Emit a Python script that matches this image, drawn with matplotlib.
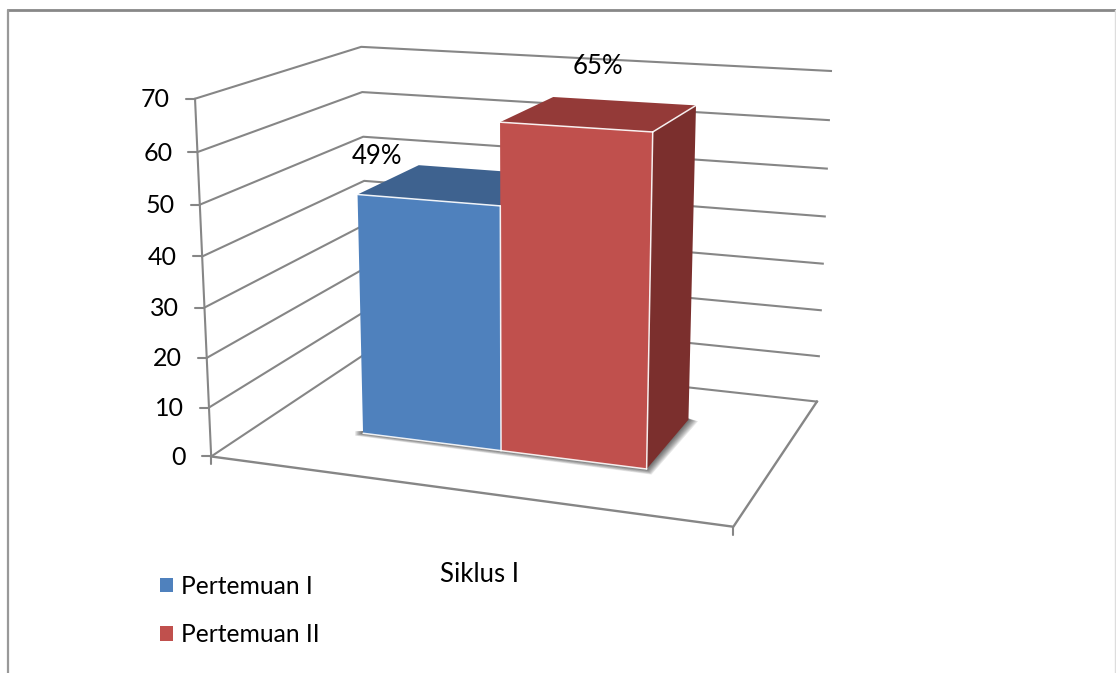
import numpy as np
import matplotlib
matplotlib.use('Agg')
import matplotlib.pyplot as plt
from matplotlib.patches import Polygon, Rectangle

plt.rcParams['font.family'] = ['Lato', 'DejaVu Sans']

categories = ['Siklus I']
series_names = ['Pertemuan I', 'Pertemuan II']
series_values = [49, 65]
value_labels = ['49%', '65%']
y_ticks = [0, 10, 20, 30, 40, 50, 60, 70]

# bar box on the floor, as fractions of floor width and depth
bar_edges = [0.213, 0.4985, 0.784]
bar_depth = [0.305, 0.72]

front_colors = ['#4F81BD', '#C0504D']
top_colors = ['#3E628F', '#943A38']
side_colors = ['#345276', '#7B2F2D']
grid_color = '#868686'

# camera fit: (across, depth, value) -> picture pixel
cal_3d = np.array([[0, 0, 0], [1, 0, 0], [1, 1, 0], [0, 1, 0], [0, 0, 70], [0, 1, 70],
                   [1, 1, 70], [0, 0, 30], [1, 1, 30], [0, 1, 40]], float)
cal_px = np.array([[211, 457], [733, 527], [817, 401], [368, 352], [195, 98.5], [361, 47],
                   [831, 71], [205, 307], [823, 264], [364, 181]], float)

A = []
b = []
for (X, Y, Z), (px, py) in zip(cal_3d, cal_px):
    A.append([X, Y, Z, 1, 0, 0, 0, 0, -px*X, -px*Y, -px*Z])
    b.append(px)
    A.append([0, 0, 0, 0, X, Y, Z, 1, -py*X, -py*Y, -py*Z])
    b.append(py)
cam = np.linalg.lstsq(np.array(A), np.array(b), rcond=None)[0]
cam = np.append(cam, 1).reshape(3, 4)


def proj(x, d, z):
    p = cam @ np.array([x, d, z, 1.0])
    return p[0]/p[2], p[1]/p[2]


def line(p1, p2, **kw):
    ax.plot([p1[0], p2[0]], [p1[1], p2[1]], solid_capstyle='round', **kw)


fig = plt.figure(figsize=(11.16, 6.73), dpi=100)
ax = fig.add_axes([0, 0, 1, 1])
ax.set_xlim(0, 1116)
ax.set_ylim(673, 0)
ax.axis('off')

# outer chart border
line((8, 10), (1116, 10), color='#888888', lw=2)
line((8, 10), (8, 673), color='#999999', lw=1.6)
line((1115, 10), (1115, 673), color='#dddddd', lw=1)

# walls and ticks
for v in y_ticks:
    p0 = proj(0, 0, v)
    p1 = proj(0, 1, v)
    p2 = proj(1, 1, v)
    ax.plot([p0[0], p1[0], p2[0]], [p0[1], p1[1], p2[1]], color=grid_color, lw=1.5)
    line((p0[0]-9, p0[1]), p0, color=grid_color, lw=1.5)
    ax.text(p0[0]-25, p0[1]+1, str(v), ha='right', va='center', fontsize=18, color='black')

line(proj(0, 0, 0), proj(0, 0, 70), color=grid_color, lw=1.5)
f = [proj(0, 0, 0), proj(1, 0, 0), proj(1, 1, 0)]
ax.plot([q[0] for q in f], [q[1] for q in f], color=grid_color, lw=1.7)
line(f[0], (f[0][0], f[0][1]+8), color=grid_color, lw=1.5)
line(f[1], (f[1][0], f[1][1]+8), color=grid_color, lw=1.5)

# soft shadow on the floor
d0, d1 = bar_depth
base = [proj(bar_edges[0], d0, 0), proj(bar_edges[2], d0, 0), proj(bar_edges[2], d1, 0)]
for k in range(8):
    off = 1 + k
    pts = [(base[0][0]-off, base[0][1]-2), (base[0][0]-off, base[0][1]+off*0.3), (base[1][0]+off*0.6, base[1][1]+off*0.7),
           (base[2][0]+off*1.2, base[2][1]+off*0.2), (base[2][0]-2, base[2][1]-2)]
    ax.add_patch(Polygon(pts, closed=True, fc='black', ec='none', alpha=0.09, zorder=3))

# bars, back to front so that the taller one covers the shorter
for i, v in enumerate(series_values):
    x0, x1 = bar_edges[i], bar_edges[i+1]
    top = [proj(x0, d0, v), proj(x1, d0, v), proj(x1, d1, v), proj(x0, d1, v)]
    side = [proj(x1, d0, 0), proj(x1, d1, 0), proj(x1, d1, v), proj(x1, d0, v)]
    front = [proj(x0, d0, 0), proj(x1, d0, 0), proj(x1, d0, v), proj(x0, d0, v)]
    ax.add_patch(Polygon(top, closed=True, fc=top_colors[i], ec='none', zorder=4))
    ax.add_patch(Polygon(side, closed=True, fc=side_colors[i], ec='none', zorder=4))
    ax.add_patch(Polygon(front, closed=True, fc=front_colors[i], ec='none', zorder=4))
    w = dict(color='white', lw=1.1, alpha=0.9, zorder=5)
    line(front[3], front[2], **w)
    line(front[0], front[1], **w)
    line(front[1], front[2], **w)
    if i == 1:
        line(top[1], top[2], **w)

# data labels
label_pos = [(377, 156), (598, 66)]
for (lx, ly), s in zip(label_pos, value_labels):
    ax.text(lx, ly, s, ha='center', va='center', fontsize=18.5, color='black', zorder=6)

ax.text(479, 574, categories[0], ha='center', va='center', fontsize=18.5, color='black')

handles = [Rectangle((0, 0), 1, 1, fc=c, ec='none') for c in front_colors]
ax.legend(handles, series_names, loc='upper left', bbox_to_anchor=(150, 565), bbox_transform=ax.transData,
          frameon=False, fontsize=17.7, handlelength=0.53, handleheight=0.53, handletextpad=0.33,
          labelspacing=1.04, borderpad=0.4, borderaxespad=0)

fig.savefig('out.png', dpi=100)
